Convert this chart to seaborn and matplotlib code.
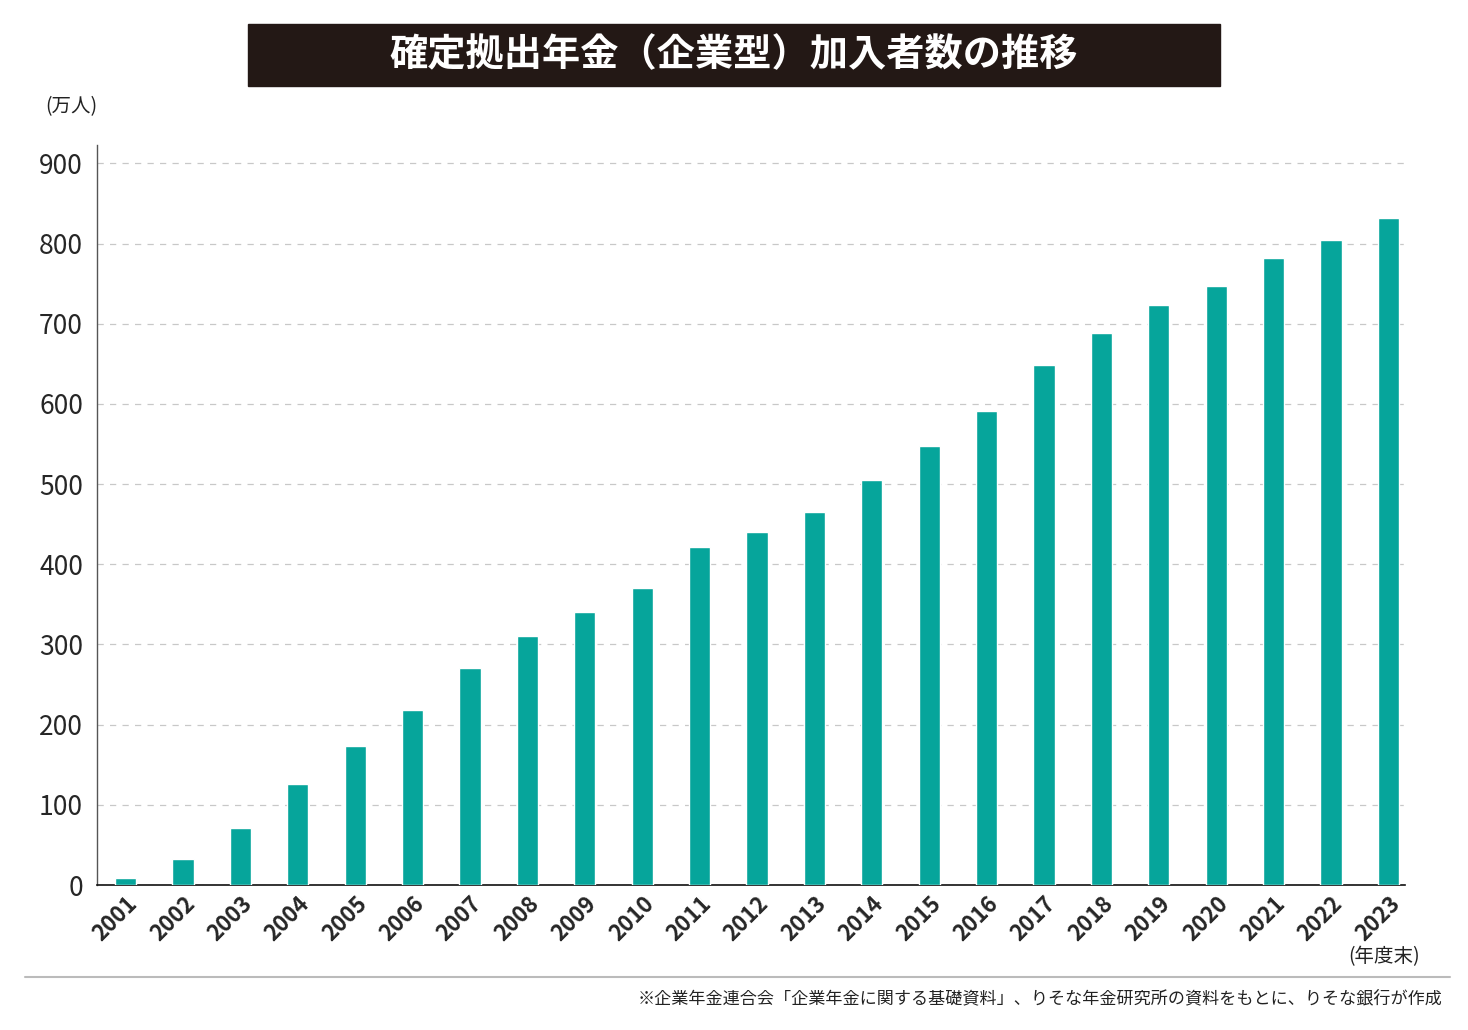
import matplotlib
matplotlib.use("Agg")
import matplotlib.pyplot as plt
import seaborn as sns
import pandas as pd

# 確定拠出年金（企業型）加入者数, 万人, 年度末
years = [str(y) for y in range(2001, 2024)]
members = [9, 32, 71, 126, 173, 218, 271, 311, 340, 371, 422, 440, 465,
           505, 547, 591, 648, 688, 723, 747, 782, 805, 832]
yticks = [0, 100, 200, 300, 400, 500, 600, 700, 800, 900]

TITLE = "確定拠出年金（企業型）加入者数の推移"
UNIT = "(万人)"
XUNIT = "(年度末)"
SOURCE = "※企業年金連合会「企業年金に関する基礎資料」、りそな年金研究所の資料をもとに、りそな銀行が作成"

BAR_COLOR = "#06a59b"
DARK = "#231815"

sns.set_theme(style="white")
plt.rcParams['font.family'] = ['Noto Sans CJK JP', 'DejaVu Sans']

df = pd.DataFrame({"year": years, "members": members})

fig = plt.figure(figsize=(14.68, 10.30), dpi=100)
ax = fig.add_axes([97 / 1468, 1 - 885 / 1030, (1405 - 97) / 1468, (885 - 145) / 1030])

sns.barplot(data=df, x="year", y="members", color=BAR_COLOR, width=0.37,
            saturation=1, ax=ax, zorder=3)

ax.set_ylim(0, 923)
ax.set_xlim(-0.5, len(years) - 1 + 0.29)
ax.set_yticks(yticks)
ax.set_yticklabels([str(v) for v in yticks], fontsize=19)
ax.yaxis.grid(True, linestyle=(0, (5, 5)), color="#c8c8c8", linewidth=0.9, zorder=0)
ax.set_xlabel("")
ax.set_ylabel("")
for lbl in ax.get_xticklabels():
    lbl.set_rotation(45)
    lbl.set_ha("right")
    lbl.set_rotation_mode("anchor")
    lbl.set_fontsize(16)
    lbl.set_fontweight("bold")
ax.tick_params(axis="y", length=0, pad=10)
ax.tick_params(axis="x", length=0, pad=5)

for side in ["top", "right"]:
    ax.spines[side].set_visible(False)
ax.spines["left"].set_color("#555555")
ax.spines["left"].set_linewidth(1.0)
ax.spines["bottom"].set_color("#111111")
ax.spines["bottom"].set_linewidth(1.2)

# title box
fig.patches.append(plt.Rectangle((248 / 1468, 1 - 86 / 1030), (1220 - 248) / 1468, 62 / 1030,
                                 transform=fig.transFigure, color=DARK, zorder=0))
fig.text(734 / 1468, 1 - 55 / 1030, TITLE, color="white", fontsize=27.5, fontweight="bold",
         ha="center", va="center")

fig.text(45 / 1468, 1 - 107 / 1030, UNIT, fontsize=14, ha="left", va="center", color="#222222")
fig.text(1420 / 1468, 1 - 957 / 1030, XUNIT, fontsize=14, ha="right", va="center", color="#222222")

fig.add_artist(plt.Line2D([25 / 1468, 1450 / 1468], [1 - 977 / 1030, 1 - 977 / 1030],
                          transform=fig.transFigure, color="#bbbbbb", linewidth=1.5))
fig.text(1443 / 1468, 1 - 998 / 1030, SOURCE, fontsize=12.3, ha="right", va="center", color="#222222")

fig.savefig("out.png", dpi=100)
